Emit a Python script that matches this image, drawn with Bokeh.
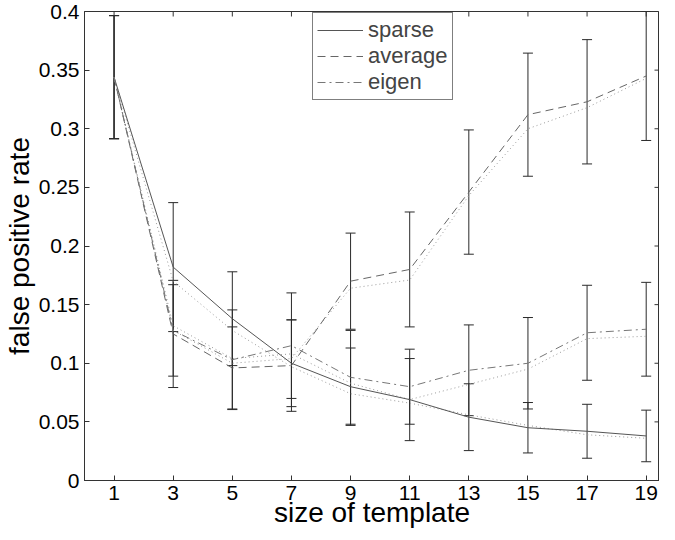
import numpy as np
from bokeh.plotting import figure
from bokeh.models import (ColumnDataSource, Whisker, TeeHead,
                          FixedTicker, NumeralTickFormatter, Range1d)
from bokeh.embed import file_html
from bokeh.resources import INLINE

# ---- data ----
template_size = [1, 3, 5, 7, 9, 11, 13, 15, 17, 19]

sparse_rate = [0.344, 0.182, 0.138, 0.100, 0.080, 0.069, 0.054, 0.045, 0.042, 0.038]
average_rate = [0.344, 0.125, 0.096, 0.098, 0.170, 0.180, 0.246, 0.312, 0.323, 0.345]
eigen_rate = [0.344, 0.128, 0.103, 0.115, 0.088, 0.080, 0.094, 0.100, 0.126, 0.129]

sparse_err = [0.0525, 0.055, 0.040, 0.037, 0.033, 0.035, 0.0285, 0.0215, 0.023, 0.022]
average_err = [0.0525, 0.0457, 0.035, 0.039, 0.041, 0.049, 0.053, 0.0525, 0.053, 0.055]
eigen_err = [0.0525, 0.039, 0.0425, 0.045, 0.040, 0.032, 0.0387, 0.039, 0.0405, 0.040]

# dotted companion curves (not in legend)
sparse_alt = [0.344, 0.170, 0.128, 0.097, 0.074, 0.066, 0.056, 0.047, 0.039, 0.036]
average_alt = [0.344, 0.128, 0.100, 0.104, 0.164, 0.171, 0.243, 0.300, 0.318, 0.343]
eigen_alt = [0.344, 0.132, 0.104, 0.108, 0.083, 0.069, 0.082, 0.095, 0.121, 0.123]

x_ticks = [1, 3, 5, 7, 9, 11, 13, 15, 17, 19]
y_ticks = [0, 0.05, 0.1, 0.15, 0.2, 0.25, 0.3, 0.35, 0.4]
x_lo, x_hi = 0, 19.45
y_lo, y_hi = 0, 0.4

FONT = "Liberation Sans"
AX = "#333333"

p = figure(width=659, height=532,
           x_range=Range1d(x_lo, x_hi), y_range=Range1d(y_lo, y_hi),
           output_backend="svg", toolbar_location=None,
           min_border_left=78, min_border_top=11, min_border_right=0,
           min_border_bottom=52,
           x_axis_label="size of template", y_axis_label="false positive rate")

p.xgrid.visible = False
p.ygrid.visible = False
p.outline_line_color = AX
p.outline_line_width = 1
p.background_fill_color = "white"
p.border_fill_color = "white"

p.xaxis.ticker = FixedTicker(ticks=x_ticks)
p.yaxis.ticker = FixedTicker(ticks=y_ticks)
p.yaxis.formatter = NumeralTickFormatter(format="0.[00]")

for ax in p.axis:
    ax.axis_line_color = AX
    ax.major_tick_line_color = AX
    ax.major_tick_in = 5
    ax.major_tick_out = 0
    ax.minor_tick_line_color = None
    ax.major_label_text_font = FONT
    ax.major_label_text_font_size = "21px"
    ax.major_label_text_color = "black"
    ax.axis_label_text_font = FONT
    ax.axis_label_text_font_size = "28px"
    ax.axis_label_text_font_style = "normal"
    ax.axis_label_text_color = "black"

p.xaxis.major_label_standoff = 5
p.xaxis.axis_label_standoff = -6
p.yaxis.major_label_standoff = 5
p.yaxis.axis_label_standoff = 1

# inward tick marks on the top and right edges of the box
p.ray(x=x_ticks, y=[y_hi] * len(x_ticks), length=5, length_units="screen",
      angle=-np.pi / 2, line_color=AX, line_width=1)
p.ray(x=[x_hi] * len(y_ticks), y=y_ticks, length=5, length_units="screen",
      angle=np.pi, line_color=AX, line_width=1)

# dotted companion curves
for ys in (sparse_alt, average_alt, eigen_alt):
    p.line(template_size, ys, line_color="#9a9a9a", line_width=1, line_dash="1 3")

# main curves
p.line(template_size, sparse_rate, line_color="#555555", line_width=1,
       legend_label="sparse")
p.line(template_size, average_rate, line_color="#666666", line_width=1,
       line_dash="8 5", legend_label="average")
p.line(template_size, eigen_rate, line_color="#777777", line_width=1,
       line_dash="8 4 2 4", legend_label="eigen")

# error bars
for vals, errs in ((sparse_rate, sparse_err), (average_rate, average_err),
                   (eigen_rate, eigen_err)):
    v = np.array(vals)
    e = np.array(errs)
    src = ColumnDataSource(dict(x=template_size, lo=v - e, hi=v + e))
    w = Whisker(source=src, base="x", lower="lo", upper="hi",
                line_color="#2a2a2a", line_width=1,
                upper_head=TeeHead(size=10, line_color="#2a2a2a", line_width=1),
                lower_head=TeeHead(size=10, line_color="#2a2a2a", line_width=1))
    p.add_layout(w)

lg = p.legend[0]
lg.location = (228, 380)
lg.margin = 0
lg.padding = 4
lg.spacing = 0
lg.label_height = 24
lg.glyph_height = 24
lg.glyph_width = 46
lg.label_standoff = 5
lg.label_text_font = FONT
lg.label_text_font_size = "22px"
lg.border_line_color = "black"
lg.border_line_width = 1
lg.background_fill_color = "white"
lg.background_fill_alpha = 1.0

open("out.html", "w").write(file_html(p, INLINE))
